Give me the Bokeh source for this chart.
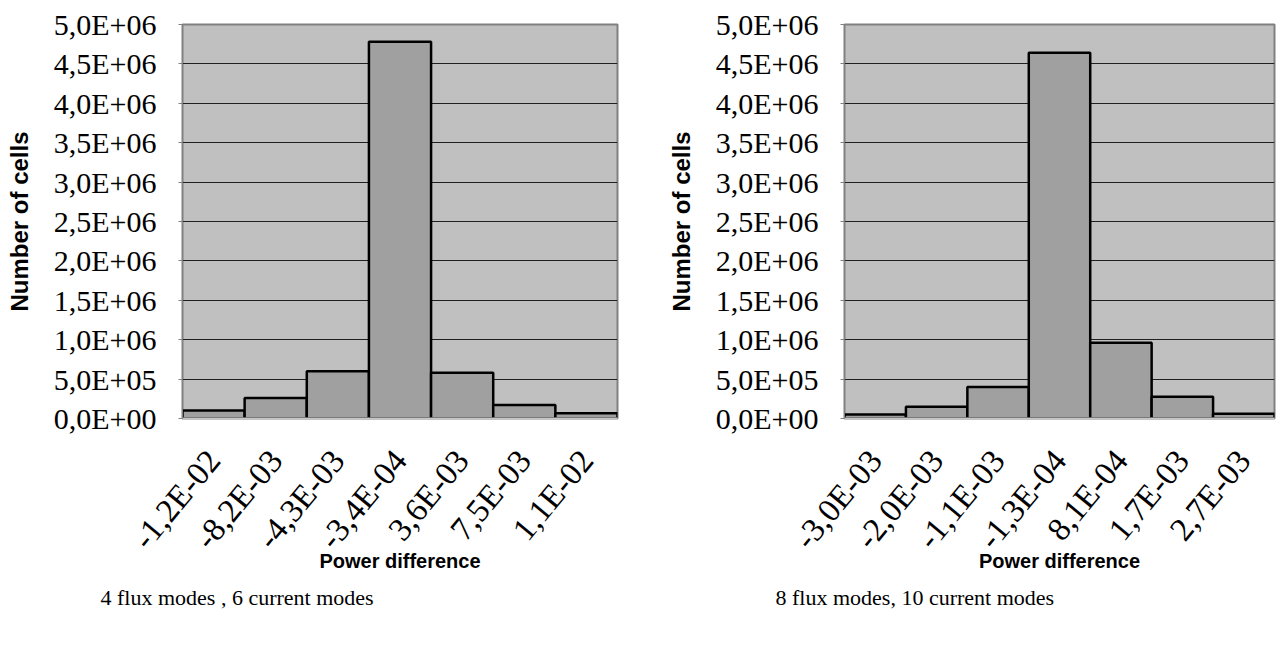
import math
from bokeh.plotting import figure
from bokeh.layouts import row
from bokeh.models import Range1d, FixedTicker, Title
from bokeh.embed import file_html
from bokeh.resources import INLINE

# ---- data ----
left_labels = ["-1,2E-02", "-8,2E-03", "-4,3E-03", "-3,4E-04", "3,6E-03", "7,5E-03", "1,1E-02"]
left_counts = [1.0e5, 2.6e5, 6.0e5, 4.78e6, 5.8e5, 1.7e5, 6.8e4]

right_labels = ["-3,0E-03", "-2,0E-03", "-1,1E-03", "-1,3E-04", "8,1E-04", "1,7E-03", "2,7E-03"]
right_counts = [5.0e4, 1.5e5, 4.0e5, 4.64e6, 9.6e5, 2.75e5, 6.0e4]

y_ticks = [0, 5e5, 1e6, 1.5e6, 2e6, 2.5e6, 3e6, 3.5e6, 4e6, 4.5e6, 5e6]
y_tick_labels = ["0,0E+00", "5,0E+05", "1,0E+06", "1,5E+06", "2,0E+06", "2,5E+06",
                 "3,0E+06", "3,5E+06", "4,0E+06", "4,5E+06", "5,0E+06"]

x_title = "Power difference"
y_title = "Number of cells"
left_caption = "4 flux modes , 6 current modes"
right_caption = "8 flux modes, 10 current modes"


def make_chart(labels, counts, caption, frame_w, border_left, border_right, cap_offset):
    p = figure(x_range=labels, y_range=Range1d(0, 5e6),
               frame_width=frame_w, frame_height=394,
               min_border_left=border_left, min_border_right=border_right,
               min_border_top=24, min_border_bottom=233,
               output_backend="svg", toolbar_location=None)
    p.background_fill_color = "#c0c0c0"
    p.border_fill_color = "white"
    p.outline_line_color = "#808080"
    p.outline_line_width = 2

    p.vbar(x=labels, top=counts, width=1.0, fill_color="#a0a0a0",
           line_color="black", line_width=2.5)

    p.xgrid.grid_line_color = None
    p.ygrid.grid_line_color = "#202020"
    p.ygrid.grid_line_width = 1
    p.ygrid.ticker = FixedTicker(ticks=y_ticks)

    p.yaxis.ticker = FixedTicker(ticks=y_ticks)
    p.yaxis.major_label_overrides = dict(zip(y_ticks, y_tick_labels))
    p.yaxis.major_label_text_font = "Liberation Serif"
    p.yaxis.major_label_text_font_size = "30px"
    p.yaxis.major_label_text_color = "black"
    p.yaxis.major_label_standoff = 22
    p.yaxis.minor_tick_line_color = None
    p.yaxis.major_tick_out = 4
    p.yaxis.major_tick_in = 0
    p.yaxis.major_tick_line_color = "#808080"
    p.yaxis.axis_line_color = "#808080"
    p.yaxis.axis_label = y_title
    p.yaxis.axis_label_text_font = "Liberation Sans"
    p.yaxis.axis_label_text_font_style = "bold"
    p.yaxis.axis_label_text_font_size = "24px"
    p.yaxis.axis_label_text_color = "black"
    p.yaxis.axis_label_standoff = 18

    p.xaxis.major_label_orientation = 0.88
    p.xaxis.major_label_text_font = "Liberation Serif"
    p.xaxis.major_label_text_font_size = "33px"
    p.xaxis.major_label_text_color = "black"
    p.xaxis.major_label_standoff = 30
    p.xaxis.major_tick_line_color = None
    p.xaxis.axis_line_color = "#c8c8c8"
    p.xaxis.axis_line_width = 2
    p.xaxis.axis_label = x_title
    p.xaxis.axis_label_text_font = "Liberation Sans"
    p.xaxis.axis_label_text_font_style = "bold"
    p.xaxis.axis_label_text_font_size = "20px"
    p.xaxis.axis_label_text_color = "black"
    p.xaxis.axis_label_standoff = -20

    p.add_layout(Title(text=caption, align="left", offset=cap_offset,
                       text_font="Liberation Serif", text_font_size="22px",
                       text_font_style="normal", text_color="black",
                       standoff=14), "below")
    return p


p1 = make_chart(left_labels, left_counts, left_caption, 435, 182, 21, 100 - 182)
p2 = make_chart(right_labels, right_counts, right_caption, 430, 206, 3, 775 - 844)

layout = row(p1, p2, spacing=0)
open("out.html", "w").write(file_html(layout, INLINE))
